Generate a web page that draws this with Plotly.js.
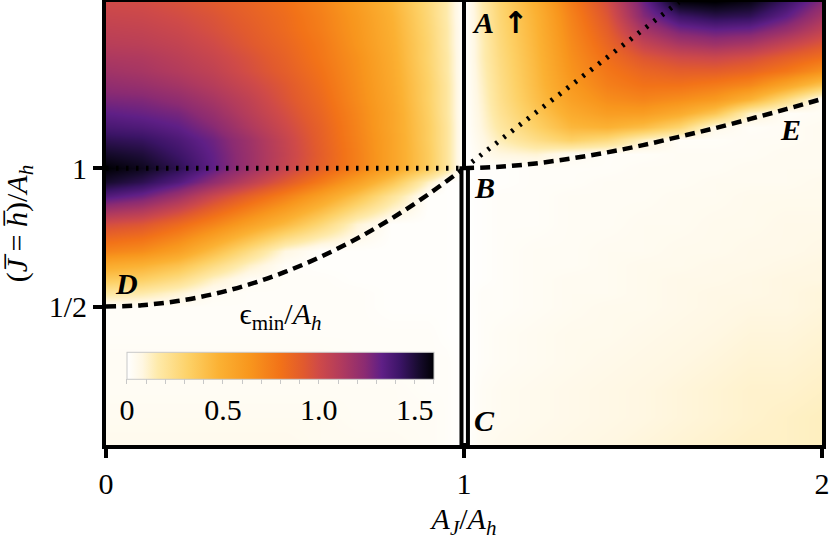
<!DOCTYPE html>
<html>
<head>
<meta charset="utf-8">
<script src="https://cdn.plot.ly/plotly-3.0.1.min.js"></script>
<style>html,body{margin:0;padding:0;background:#fff;}#chart{width:834px;height:540px;}</style>
</head>
<body>
<div id="chart"></div>
<script>
// grid of A_J/A_h (columns) and (J=h)/A_h (rows)
const xVals = [0, 0.1, 0.2, 0.3, 0.4, 0.5, 0.6, 0.7, 0.8, 0.9, 0.95, 1.0, 1.05, 1.1, 1.2, 1.3, 1.4, 1.5, 1.6, 1.7, 1.8, 1.9, 2.0];
const yVals = [0, 0.1, 0.2, 0.3, 0.4, 0.5, 0.55, 0.6, 0.65, 0.7, 0.8, 0.9, 0.95, 1.0, 1.05, 1.1, 1.15, 1.2, 1.25, 1.3, 1.35, 1.4, 1.45, 1.5, 1.55, 1.6];

// eps_min / A_h, one array per row
const r000 = [0.05,0.05,0.05,0.05,0.05,0.05,0.04,0.04,0.04,0.03,0.02,0, 0.04,0.05,0.06,0.07,0.08,0.09,0.10,0.11,0.12,0.12,0.13];
const r010 = [0.04,0.04,0.04,0.04,0.04,0.04,0.04,0.03,0.03,0.03,0.02,0, 0.03,0.04,0.05,0.06,0.07,0.08,0.09,0.10,0.11,0.12,0.13];
const r020 = [0.03,0.03,0.03,0.03,0.03,0.03,0.03,0.03,0.03,0.02,0.02,0, 0.03,0.04,0.05,0.06,0.07,0.08,0.09,0.10,0.11,0.11,0.12];
const r030 = [0.03,0.03,0.03,0.03,0.03,0.03,0.03,0.02,0.02,0.02,0.02,0, 0.02,0.03,0.04,0.05,0.06,0.07,0.08,0.09,0.10,0.10,0.11];
const r040 = [0.02,0.02,0.02,0.02,0.02,0.02,0.02,0.02,0.02,0.02,0.01,0, 0.02,0.03,0.04,0.05,0.05,0.06,0.07,0.08,0.09,0.09,0.10];
const r050 = [0.02,0.02,0.02,0.02,0.02,0.02,0.02,0.02,0.01,0.01,0.01,0, 0.02,0.02,0.03,0.04,0.05,0.05,0.06,0.07,0.08,0.08,0.09];
const r055 = [0.18,0.16,0.10,0.03,0.02,0.02,0.02,0.02,0.01,0.01,0.01,0, 0.02,0.02,0.03,0.04,0.04,0.05,0.06,0.07,0.07,0.08,0.09];
const r060 = [0.36,0.33,0.25,0.12,0.03,0.02,0.02,0.01,0.01,0.01,0.01,0, 0.01,0.02,0.03,0.04,0.04,0.05,0.06,0.06,0.07,0.08,0.08];
const r065 = [0.52,0.48,0.40,0.26,0.12,0.02,0.01,0.01,0.01,0.01,0.01,0, 0.01,0.02,0.03,0.03,0.04,0.05,0.05,0.06,0.06,0.07,0.08];
const r070 = [0.72,0.68,0.58,0.42,0.25,0.08,0.01,0.01,0.01,0.01,0.01,0, 0.01,0.02,0.03,0.03,0.04,0.04,0.05,0.05,0.06,0.06,0.07];
const r080 = [0.98,0.94,0.84,0.72,0.58,0.44,0.28,0.10,0.01,0.01,0.01,0, 0.01,0.02,0.02,0.03,0.03,0.04,0.04,0.05,0.05,0.06,0.06];
const r090 = [1.36,1.30,1.18,1.02,0.88,0.74,0.58,0.40,0.20,0.01,0.01,0, 0.01,0.02,0.02,0.03,0.03,0.03,0.04,0.04,0.05,0.05,0.05];
const r095 = [1.52,1.46,1.36,1.22,1.07,0.92,0.76,0.58,0.38,0.12,0.01,0, 0.01,0.01,0.02,0.02,0.03,0.03,0.03,0.04,0.04,0.04,0.05];
const r100 = [1.60,1.55,1.46,1.33,1.19,1.04,0.89,0.74,0.56,0.35,0.20,0, 0.01,0.01,0.02,0.02,0.02,0.03,0.03,0.03,0.04,0.04,0.04];
const r105 = [1.53,1.50,1.42,1.32,1.19,1.05,0.90,0.74,0.56,0.35,0.20,0, 0.05,0.08,0.10,0.04,0.02,0.02,0.03,0.03,0.03,0.04,0.04];
const r110 = [1.46,1.44,1.38,1.30,1.18,1.04,0.89,0.73,0.56,0.34,0.20,0, 0.07,0.14,0.24,0.32,0.26,0.12,0.02,0.02,0.03,0.03,0.04];
const r115 = [1.39,1.37,1.33,1.25,1.13,1.01,0.88,0.72,0.55,0.34,0.20,0, 0.09,0.18,0.32,0.45,0.48,0.42,0.30,0.06,0.02,0.03,0.04];
const r120 = [1.33,1.31,1.28,1.20,1.09,0.98,0.86,0.71,0.55,0.33,0.19,0, 0.10,0.21,0.37,0.52,0.60,0.60,0.52,0.38,0.12,0.02,0.03];
const r125 = [1.27,1.26,1.22,1.15,1.06,0.95,0.84,0.69,0.54,0.32,0.19,0, 0.11,0.23,0.41,0.58,0.68,0.72,0.68,0.62,0.48,0.26,0.03];
const r130 = [1.22,1.20,1.16,1.10,1.02,0.93,0.82,0.68,0.53,0.32,0.19,0, 0.12,0.24,0.43,0.62,0.74,0.80,0.80,0.76,0.70,0.55,0.38];
const r135 = [1.17,1.15,1.11,1.06,0.98,0.90,0.80,0.67,0.52,0.31,0.18,0, 0.13,0.25,0.44,0.65,0.78,0.86,0.90,0.90,0.86,0.78,0.66];
const r140 = [1.13,1.12,1.08,1.03,0.96,0.88,0.78,0.66,0.51,0.30,0.18,0, 0.14,0.26,0.45,0.67,0.82,0.94,1.00,1.02,0.98,0.90,0.82];
const r145 = [1.09,1.08,1.05,1.00,0.93,0.86,0.77,0.64,0.50,0.30,0.17,0, 0.14,0.27,0.46,0.69,0.86,1.04,1.14,1.18,1.14,1.04,0.94];
const r150 = [1.06,1.05,1.02,0.97,0.91,0.84,0.75,0.63,0.49,0.29,0.17,0, 0.15,0.28,0.47,0.71,0.90,1.15,1.28,1.32,1.30,1.20,1.06];
const r155 = [1.03,1.02,0.99,0.95,0.89,0.83,0.74,0.62,0.48,0.28,0.16,0, 0.15,0.29,0.48,0.73,0.94,1.25,1.42,1.47,1.45,1.33,1.16];
const r160 = [1.00,0.99,0.96,0.92,0.87,0.81,0.72,0.60,0.46,0.27,0.16,0, 0.16,0.30,0.50,0.76,0.98,1.30,1.58,1.60,1.56,1.42,1.25];

// boundary lines
const dashD_x = [0, 0.1, 0.2, 0.3, 0.4, 0.5, 0.6, 0.7, 0.8, 0.9, 1.0];
const dashD_y = [0.5, 0.505, 0.52, 0.545, 0.58, 0.625, 0.68, 0.745, 0.82, 0.905, 1.0];
const dashE_x = [1.0, 1.1, 1.2, 1.3, 1.4, 1.5, 1.6, 1.7, 1.8, 1.9, 2.0];
const dashE_y = [1.0, 1.005, 1.017, 1.035, 1.057, 1.083, 1.113, 1.144, 1.178, 1.213, 1.25];
const dotH_x = [0, 1];
const dotH_y = [1, 1];
const dotDiag_x = [1, 1.6];
const dotDiag_y = [1, 1.6];
const lineA_x = [1, 1];
const lineA_y = [1, 1.6];
const stripBC_x = [0.993, 0.993, 1.011, 1.011, 0.993];
const stripBC_y = [0, 1, 1, 0, 0];

// colour bar ticks
const cbTickVals = [0,0.1,0.2,0.3,0.4,0.5,0.6,0.7,0.8,0.9,1.0,1.1,1.2,1.3,1.4,1.5,1.6];
const cbTickText = ['0','','','','','0.5','','','','','1.0','','','','','1.5',''];

const z = [r000,r010,r020,r030,r040,r050,r055,r060,r065,r070,r080,r090,r095,r100,r105,r110,r115,r120,r125,r130,r135,r140,r145,r150,r155,r160];

const FONT = 'Liberation Serif, Times New Roman, serif';

const colorscale = [
  [0, '#ffffff'], [0.05, '#fff7e2'], [0.1, '#feeaaa'], [0.2, '#fdd167'],
  [0.3, '#fbb133'], [0.4, '#f8961d'], [0.5, '#f27218'], [0.575, '#e15a2e'],
  [0.625, '#cf4a48'], [0.7, '#b03a5e'], [0.775, '#8b2b72'], [0.83, '#5f1f86'],
  [0.89, '#3b1466'], [0.95, '#170b2e'], [1, '#000004']
];

const traces = [
  {
    type: 'heatmap', x: xVals, y: yVals, z: z, zsmooth: 'best',
    zmin: 0, zmax: 1.6, colorscale: colorscale, hoverinfo: 'skip',
    colorbar: {
      orientation: 'h', x: 0.0293, xanchor: 'left', len: 0.4288, lenmode: 'fraction',
      y: 0.295, yanchor: 'top', thickness: 27, xpad: 0, ypad: 0,
      outlinewidth: 1, outlinecolor: '#c8c8c8',
      tickmode: 'array', tickvals: cbTickVals, ticktext: cbTickText,
      ticks: 'outside', ticklen: 5, tickwidth: 1, tickcolor: '#c8c8c8',
      tickfont: {family: FONT, size: 30, color: '#000'},
      title: {text: 'ϵ<sub>min</sub>/<i>A<sub>h</sub></i>', side: 'top', font: {family: FONT, size: 30, color: '#000'}}
    }
  },
  {type: 'scatter', mode: 'lines', x: dotH_x, y: dotH_y, hoverinfo: 'skip', showlegend: false,
   line: {color: '#000', width: 5, dash: '2.5px,7.5px'}},
  {type: 'scatter', mode: 'lines', x: dotDiag_x, y: dotDiag_y, hoverinfo: 'skip', showlegend: false,
   line: {color: '#000', width: 5, dash: '2.5px,7.5px'}},
  {type: 'scatter', mode: 'lines', x: dashD_x, y: dashD_y, line: {shape: 'spline', color: '#000', width: 4.5, dash: '10px,6px'}, hoverinfo: 'skip', showlegend: false},
  {type: 'scatter', mode: 'lines', x: dashE_x, y: dashE_y, line: {shape: 'spline', color: '#000', width: 4.5, dash: '10px,6px'}, hoverinfo: 'skip', showlegend: false},
  {type: 'scatter', mode: 'lines', x: lineA_x, y: lineA_y, line: {color: '#000', width: 4}, hoverinfo: 'skip', showlegend: false},
  {type: 'scatter', mode: 'lines', x: stripBC_x, y: stripBC_y, fill: 'toself', fillcolor: '#fff', line: {color: '#000', width: 4}, hoverinfo: 'skip', showlegend: false}
];

const lbl = (t) => '<b><i>' + t + '</i></b>';
const ann = (x, y, t, fam, size) => ({x: x, y: y, xref: 'x', yref: 'y', text: t, showarrow: false, font: {family: fam || FONT, size: size || 30, color: '#000'}});

const layout = {
  width: 834, height: 540,
  margin: {l: 106, r: 12, t: 2, b: 95},
  paper_bgcolor: '#fff', plot_bgcolor: '#fff',
  showlegend: false,
  xaxis: {
    range: [0, 2], tickmode: 'array', tickvals: [0, 1, 2], ticktext: ['0', '1', '2'],
    ticks: 'outside', ticklen: 9, tickwidth: 4, tickcolor: '#000',
    showline: true, linewidth: 4, linecolor: '#000', mirror: true,
    showgrid: false, zeroline: false,
    tickfont: {family: FONT, size: 30, color: '#000'},
    title: {text: '<i>A<sub>J</sub></i>/<i>A<sub>h</sub></i>', standoff: 24, font: {family: FONT, size: 30, color: '#000'}}
  },
  yaxis: {
    range: [0, 1.6], tickmode: 'array', tickvals: [0.5, 1], ticktext: ['1/2', '1'],
    ticks: 'outside', ticklen: 9, tickwidth: 4, tickcolor: '#000',
    showline: true, linewidth: 4, linecolor: '#000', mirror: true,
    showgrid: false, zeroline: false,
    tickfont: {family: FONT, size: 30, color: '#000'},
    title: {text: '(<i>J\u0305</i> = <i>h\u0305</i>)/<i>A<sub>h</sub></i>', standoff: 14, font: {family: FONT, size: 30, color: '#000'}}
  },
  annotations: [
    ann(1.053, 1.525, lbl('A')),
    ann(1.145, 1.525, '<b>↑</b>', 'DejaVu Sans', 30),
    ann(1.056, 0.929, lbl('B')),
    ann(1.056, 0.087, lbl('C')),
    ann(0.056, 0.582, lbl('D')),
    ann(1.913, 1.138, lbl('E'))
  ]
};

Plotly.newPlot('chart', traces, layout, {displayModeBar: false, staticPlot: true});
</script>
</body>
</html>
